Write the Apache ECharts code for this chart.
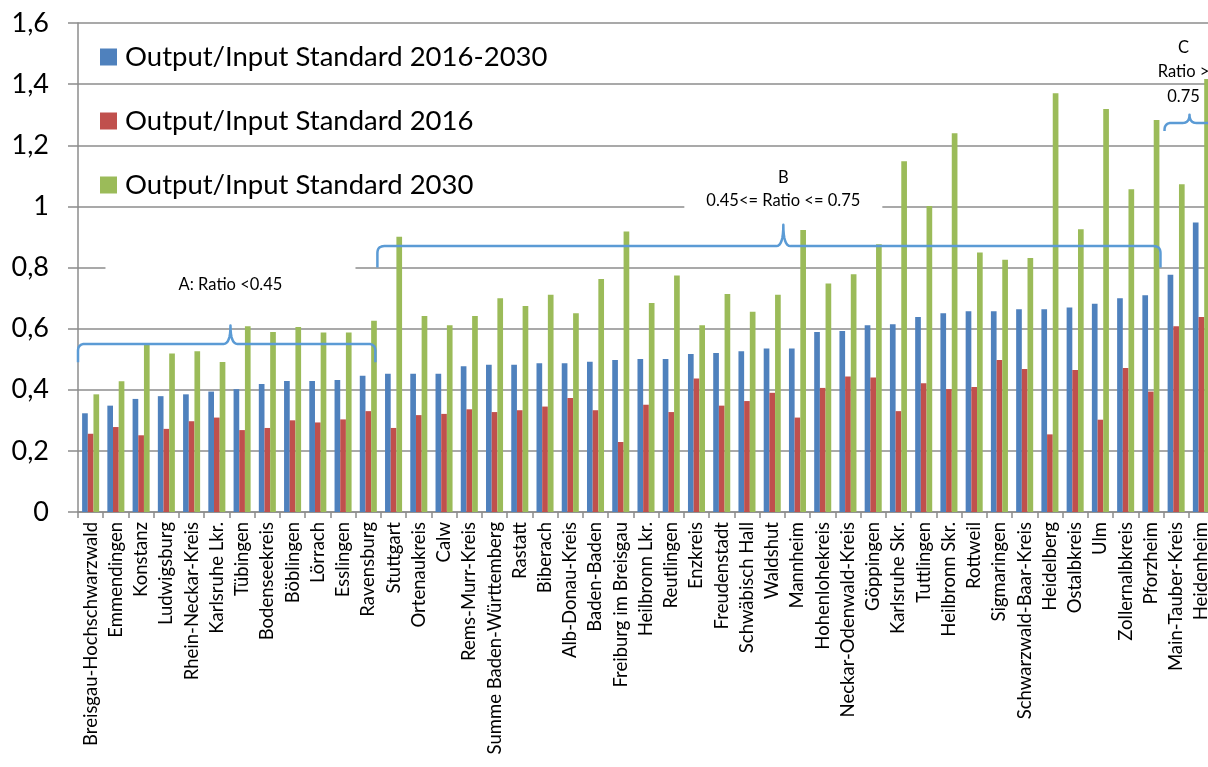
<!DOCTYPE html>
<html>
<head>
<meta charset="utf-8">
<script src="https://cdn.jsdelivr.net/npm/echarts@6/dist/echarts.min.js"></script>
<style>
  html, body { margin: 0; padding: 0; background: #fff; }
  #chart { width: 1208px; height: 767px; }
</style>
</head>
<body>
<div id="chart"></div>
<script>
// Kreise / Städte
var categories = ['Breisgau-Hochschwarzwald', 'Emmendingen', 'Konstanz', 'Ludwigsburg', 'Rhein-Neckar-Kreis',
  'Karlsruhe Lkr.', 'Tübingen', 'Bodenseekreis', 'Böblingen', 'Lörrach', 'Esslingen', 'Ravensburg', 'Stuttgart',
  'Ortenaukreis', 'Calw', 'Rems-Murr-Kreis', 'Summe Baden-Württemberg', 'Rastatt', 'Biberach', 'Alb-Donau-Kreis',
  'Baden-Baden', 'Freiburg im Breisgau', 'Heilbronn Lkr.', 'Reutlingen', 'Enzkreis', 'Freudenstadt',
  'Schwäbisch Hall', 'Waldshut', 'Mannheim', 'Hohenlohekreis', 'Neckar-Odenwald-Kreis', 'Göppingen',
  'Karlsruhe Skr.', 'Tuttlingen', 'Heilbronn Skr.', 'Rottweil', 'Sigmaringen', 'Schwarzwald-Baar-Kreis',
  'Heidelberg', 'Ostalbkreis', 'Ulm', 'Zollernalbkreis', 'Pforzheim', 'Main-Tauber-Kreis', 'Heidenheim'];

var seriesNames = ['Output/Input Standard 2016-2030', 'Output/Input Standard 2016', 'Output/Input Standard 2030'];

var ratio2016_2030 = [0.323, 0.348, 0.370, 0.379, 0.385, 0.394, 0.402, 0.419, 0.429, 0.429, 0.432, 0.446, 0.452,
  0.452, 0.452, 0.477, 0.482, 0.482, 0.487, 0.487, 0.492, 0.497, 0.501, 0.501, 0.517, 0.520, 0.526, 0.535, 0.535,
  0.589, 0.592, 0.611, 0.614, 0.638, 0.650, 0.657, 0.657, 0.663, 0.663, 0.669, 0.681, 0.699, 0.709, 0.776, 0.947];

var ratio2016 = [0.256, 0.278, 0.251, 0.272, 0.297, 0.309, 0.268, 0.275, 0.300, 0.293, 0.303, 0.330, 0.275,
  0.317, 0.321, 0.336, 0.327, 0.333, 0.345, 0.373, 0.333, 0.229, 0.351, 0.327, 0.437, 0.348, 0.363, 0.390, 0.309,
  0.406, 0.443, 0.440, 0.330, 0.421, 0.402, 0.409, 0.497, 0.468, 0.254, 0.465, 0.302, 0.471, 0.394, 0.608, 0.638];

var ratio2030 = [0.385, 0.428, 0.549, 0.519, 0.526, 0.491, 0.608, 0.589, 0.605, 0.587, 0.587, 0.626, 0.901,
  0.641, 0.611, 0.641, 0.699, 0.674, 0.711, 0.650, 0.762, 0.918, 0.684, 0.774, 0.611, 0.713, 0.655, 0.711, 0.923,
  0.748, 0.778, 0.876, 1.148, 1.001, 1.239, 0.849, 0.825, 0.831, 1.370, 0.925, 1.319, 1.056, 1.283, 1.072, 1.417];

var yTicks = [0, 0.2, 0.4, 0.6, 0.8, 1, 1.2, 1.4, 1.6];

// Gruppen-Klammern: Bereich in Kategorien (Grenzen), Höhen als Werte
var groupBraces = [
  { from: -0.5, to: 11.28, tip: 5.54, base: 0.49, bar: 0.55, top: 0.61 },
  { from: 11.36, to: 42.38, tip: 27.44, base: 0.80, bar: 0.87, top: 0.94 },
  { from: 42.54, to: 45.5, tip: 43.53, base: 1.247, bar: 1.273, top: 1.30 }
];

var FONT = 'Lato, "Liberation Sans", sans-serif';
var GRID_COLOR = '#8c8c8c';

var chart = echarts.init(document.getElementById('chart'));

function makeBar(name, data, color) {
  return {
    name: name,
    type: 'bar',
    data: data,
    barWidth: '22.5%',
    barGap: '0%',
    itemStyle: { color: color },
    emphasis: { disabled: true }
  };
}

var option = {
  animation: false,
  backgroundColor: '#fff',
  grid: { left: 78, top: 23, right: -6, bottom: 255, outerBoundsMode: 'none', containLabel: false },
  legend: {
    orient: 'vertical',
    left: 95,
    top: 38,
    itemWidth: 17,
    itemHeight: 17,
    itemGap: 36,
    icon: 'rect',
    textStyle: { fontFamily: FONT, fontSize: 27.5, color: '#000', lineHeight: 28, padding: [0, 0, 0, 3] },
    data: seriesNames
  },
  xAxis: {
    type: 'category',
    data: categories,
    axisLine: { lineStyle: { color: GRID_COLOR, width: 1.5 } },
    axisTick: { show: true, length: 6, lineStyle: { color: GRID_COLOR, width: 1.5 } },
    axisLabel: { interval: 0, rotate: 90, fontFamily: FONT, fontSize: 18.5, color: '#000', margin: 10 }
  },
  yAxis: {
    type: 'value',
    min: 0,
    max: 1.6,
    interval: 0.2,
    axisLine: { show: true, lineStyle: { color: GRID_COLOR, width: 1.5 } },
    axisTick: { show: true, length: 10, lineStyle: { color: GRID_COLOR, width: 1.5 } },
    splitLine: { lineStyle: { color: GRID_COLOR, width: 1.5 } },
    axisLabel: {
      fontFamily: FONT, fontSize: 27, color: '#000', margin: 29,
      formatter: function (v) {
        var t = yTicks.reduce(function (a, b) { return Math.abs(b - v) < Math.abs(a - v) ? b : a; });
        return String(t).replace('.', ',');
      }
    }
  },
  series: [
    makeBar(seriesNames[0], ratio2016_2030, '#4f81bd'),
    makeBar(seriesNames[1], ratio2016, '#c0504d'),
    makeBar(seriesNames[2], ratio2030, '#9bbb59')
  ]
};

chart.setOption(option);

// Klammern und Beschriftungen an Achsen-Koordinaten ausrichten
function px(cat, val) {
  var x0 = chart.convertToPixel({ xAxisIndex: 0 }, 0);
  var x1 = chart.convertToPixel({ xAxisIndex: 0 }, 1);
  var y = chart.convertToPixel({ yAxisIndex: 0 }, val);
  return [x0 + cat * (x1 - x0), y];
}

// quadratische Kurve als Punktfolge
function quad(pts, p0, c, p1) {
  for (var i = 1; i <= 8; i++) {
    var t = i / 8, u = 1 - t;
    pts.push([u * u * p0[0] + 2 * u * t * c[0] + t * t * p1[0], u * u * p0[1] + 2 * u * t * c[1] + t * t * p1[1]]);
  }
}

function bracePoints(b) {
  var l = px(b.from, b.base), r = px(b.to, b.base);
  var ym = px(0, b.bar)[1], t = px(b.tip, b.top);
  var rad = 7;
  var pts = [l, [l[0], ym + rad]];
  quad(pts, [l[0], ym + rad], [l[0], ym], [l[0] + rad, ym]);
  pts.push([t[0] - rad, ym]);
  quad(pts, [t[0] - rad, ym], [t[0], ym], [t[0], t[1]]);
  quad(pts, [t[0], t[1]], [t[0], ym], [t[0] + rad, ym]);
  pts.push([r[0] - rad, ym]);
  quad(pts, [r[0] - rad, ym], [r[0], ym], [r[0], ym + rad]);
  pts.push(r);
  return pts;
}

function textBox(cx, cy, w, h, text) {
  return [
    { type: 'rect', shape: { x: cx - w / 2, y: cy - h / 2, width: w, height: h }, style: { fill: '#fff' }, z: 10 },
    { type: 'text', x: cx, y: cy, z: 11,
      style: { text: text, fontFamily: FONT, fontSize: 16.5, fill: '#000', align: 'center', verticalAlign: 'middle', lineHeight: 23 } }
  ];
}

var els = [];
groupBraces.forEach(function (b) {
  els.push({ type: 'polyline', z: 12, shape: { points: bracePoints(b) },
    style: { fill: null, stroke: '#5b9bd5', lineWidth: 2.5, lineJoin: 'round' } });
});

var pA = px(5.54, 0.745), pB = px(27.44, 1.055), pC = px(43.53, 1.4);
els = els.concat(textBox(pA[0], pA[1], 250, 40, 'A: Ratio <0.45'));
els = els.concat(textBox(pB[0], pB[1], 198, 46, 'B\n0.45<= Ratio <= 0.75'));
els.push({ type: 'text', x: pC[0] - 6, y: pC[1] - 12, z: 11,
  style: { text: 'C\nRatio >\n0.75', fontFamily: FONT, fontSize: 16.5, fill: '#000', align: 'center', verticalAlign: 'middle', lineHeight: 24.5 } });

chart.setOption({ graphic: { elements: els } });
</script>
</body>
</html>
